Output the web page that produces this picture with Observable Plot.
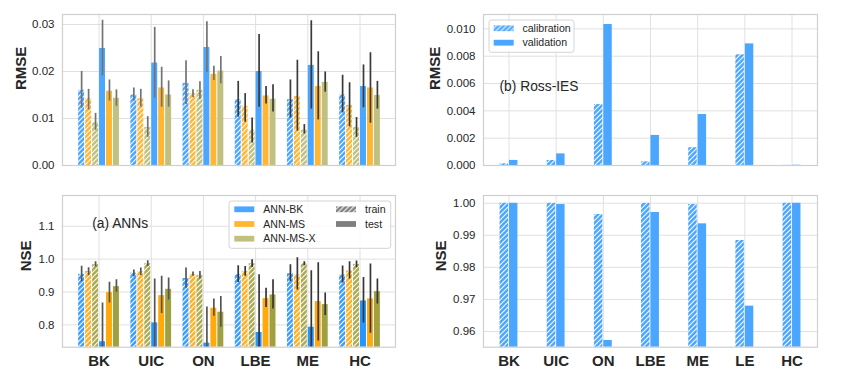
<!DOCTYPE html>
<html><head><meta charset="utf-8">
<script src="https://cdn.jsdelivr.net/npm/d3@7"></script>
<script src="https://cdn.jsdelivr.net/npm/@observablehq/plot@0.6"></script>
<style>
body{margin:0;background:#fff;font-family:"Liberation Sans",Arial,sans-serif;}
#root{position:relative;width:842px;height:377px;overflow:hidden;background:#fff;}
.panel{position:absolute;}
.legend{position:absolute;overflow:visible;}
</style></head><body>
<svg width="0" height="0" style="position:absolute">
<defs id="defs"></defs></svg>
<div id="root"></div>
<script>
// ---------- data ----------
const annCategories = ["BK","UIC","ON","LBE","ME","HC"];
const annModels = ["ANN-BK","ANN-MS","ANN-MS-X"];
const phases = ["train","test"];
// [mean, lower, upper] per category
const rmseTrainBK  = [[0.0160,0.0122,0.0200],[0.0150,0.0137,0.0165],[0.0175,0.0130,0.0223],[0.0140,0.0103,0.0179],[0.0140,0.0101,0.0182],[0.0150,0.0112,0.0192]];
const rmseTrainMS  = [[0.0142,0.0118,0.0162],[0.0142,0.0124,0.0162],[0.0153,0.0144,0.0161],[0.0126,0.0092,0.0153],[0.0147,0.0073,0.0224],[0.0128,0.0082,0.0176]];
const rmseTrainMSX = [[0.0091,0.0075,0.0111],[0.0081,0.0060,0.0104],[0.0160,0.0141,0.0178],[0.0075,0.0048,0.0101],[0.0075,0.0067,0.0087],[0.0081,0.0060,0.0102]];
const rmseTestBK   = [[0.0249,0.0191,0.0309],[0.0218,0.0143,0.0294],[0.0251,0.0198,0.0306],[0.0200,0.0124,0.0279],[0.0213,0.0120,0.0308],[0.0168,0.0123,0.0214]];
const rmseTestMS   = [[0.0158,0.0137,0.0182],[0.0165,0.0124,0.0209],[0.0194,0.0181,0.0211],[0.0148,0.0131,0.0168],[0.0168,0.0097,0.0242],[0.0165,0.0090,0.0240]];
const rmseTestMSX  = [[0.0143,0.0126,0.0161],[0.0150,0.0124,0.0180],[0.0201,0.0174,0.0232],[0.0141,0.0114,0.0172],[0.0177,0.0156,0.0199],[0.0149,0.0120,0.0179]];
const nseTrainBK   = [[0.9535,0.931,0.978],[0.957,0.9465,0.967],[0.941,0.911,0.973],[0.9525,0.929,0.980],[0.9556,0.932,0.983],[0.9515,0.927,0.979]];
const nseTrainMS   = [[0.9626,0.9495,0.9737],[0.9616,0.9505,0.9727],[0.9535,0.9475,0.9606],[0.9626,0.9475,0.9778],[0.9515,0.906,1.004],[0.9636,0.9394,0.9919]];
const nseTrainMSX  = [[0.9828,0.9758,0.9919],[0.9859,0.9778,0.995],[0.9495,0.9394,0.9626],[0.9859,0.9747,0.998],[0.9859,0.9798,0.9919],[0.9838,0.9737,0.9939]];
const nseTestBK    = [[0.7485,0.63,0.8667],[0.806,0.67,0.9394],[0.7444,0.63,0.8545],[0.7768,0.60,0.9525],[0.7929,0.62,0.9646],[0.8727,0.806,0.9444]];
const nseTestMS    = [[0.898,0.8667,0.9293],[0.8889,0.8343,0.9475],[0.8505,0.8263,0.8788],[0.8798,0.8525,0.9111],[0.8707,0.7505,0.9889],[0.8788,0.7747,0.9848]];
const nseTestMSX   = [[0.9162,0.899,0.9374],[0.9081,0.8758,0.9424],[0.8384,0.7929,0.8859],[0.8909,0.8485,0.9374],[0.8616,0.8283,0.897],[0.901,0.8636,0.9394]];
const rmseTicks = [0, 0.01, 0.02, 0.03];
const nseTicks = [0.8, 0.9, 1.0, 1.1];

const iesCategories = ["BK","UIC","ON","LBE","ME","LE","HC"];
const iesSeries = ["calibration","validation"];
const iesRmseCal = [0.00012,0.00037,0.00446,0.00027,0.0013,0.0081,0.00001];
const iesRmseVal = [0.00037,0.00085,0.01032,0.0022,0.00373,0.0089,0.00002];
const iesNseCal  = [0.99998,0.99995,0.99647,0.99995,0.9996,0.98836,0.99998];
const iesNseVal  = [0.99997,0.99958,0.9572,0.9971,0.99356,0.9679,0.99998];
const iesRmseTicks = [0, 0.002, 0.004, 0.006, 0.008, 0.010];
const iesNseTicks = [0.96, 0.97, 0.98, 0.99, 1.00];

// ---------- styles ----------
const FONT = '"Liberation Sans", Arial, sans-serif';
const TXT = "#262626";
const GRID = "#e0e0e0";
const colorsTop = ["#4ba6ff","#ffb733","#c0c080"];
const colorsBotTest = ["#2795ff","#ffa90a","#a0a040"];
const colorsBotTrain = ["#3a9eff","#ffb020","#aaaa52"];
const iesColor = "#4ba6ff";

// hatch patterns
const defs = d3.select("#defs");
function hatch(id, color) {
  const p = defs.append("pattern").attr("id", id).attr("patternUnits","userSpaceOnUse")
    .attr("width",5).attr("height",5);
  p.append("rect").attr("width",5).attr("height",5).attr("fill",color);
  p.append("path").attr("d","M-1.25,1.25 l2.5,-2.5 M0,5 l5,-5 M3.75,6.25 l2.5,-2.5")
    .attr("stroke","#fff").attr("stroke-width",1.1).attr("stroke-opacity",0.95);
  return `url(#${id})`;
}
const hatchTop = colorsTop.map((c,k)=>hatch("ht"+k,c));
const hatchBot = colorsBotTrain.map((c,k)=>hatch("hb"+k,c));
const hatchIes = hatch("hi", iesColor);
const hatchGray = hatch("hg", "#7f7f7f");

function annRows(trainArrs, testArrs) {
  const rows = [];
  [trainArrs, testArrs].forEach((arrs, ph) => arrs.forEach((arr, m) => arr.forEach((d, i) =>
    rows.push({i, m, ph, j: ph*3+m, v: d[0], lo: d[1], hi: d[2]}))));
  return rows;
}

const root = document.getElementById("root");
function place(node, left, top) {
  node.classList.add("panel"); node.style.left = left+"px"; node.style.top = top+"px";
  root.appendChild(node);
}

const slotA = 0.8/6;
function annPanel({rows, yDomain, yTicks, yFmt, yLabel, labelDx, showX, fillFn, errA, errB, height, mt, mb, text}) {
  return Plot.plot({
    width: 410, height, marginLeft: 62, marginRight: 15, marginTop: mt, marginBottom: mb,
    x: {type: "linear", domain: [-0.7, 5.68], axis: null},
    y: {domain: yDomain, axis: null},
    color: {type: "identity"},
    style: {fontFamily: FONT, fontSize: "11.5px", color: TXT, background: "transparent", overflow: "visible"},
    marks: [
      Plot.gridX(d3.range(annCategories.length), {stroke: GRID, strokeOpacity: 1}),
      Plot.gridY(yTicks, {stroke: GRID, strokeOpacity: 1}),
      Plot.rectY(rows, {x1: d => d.i - 0.4 + d.j*slotA, x2: d => d.i - 0.4 + (d.j+1)*slotA,
        y1: 0, y2: "v", fill: fillFn, insetLeft: 0.5, insetRight: 0.5, clip: true}),
      Plot.ruleX(rows, {x: d => d.i - 0.4 + (d.j+0.5)*slotA, y1: "lo", y2: "hi",
        stroke: d => d.i < 3 ? errA : errB, strokeWidth: 1.7, clip: true}),
      Plot.frame({stroke: "#cfcfcf", strokeWidth: 1.2}),
      Plot.axisY(yTicks, {tickSize: 0, tickPadding: 8, tickFormat: d3.format(yFmt), label: null, fontSize: 11.5}),
      showX ? Plot.axisX(d3.range(annCategories.length), {tickSize: 0, tickPadding: 8, tickFormat: i => annCategories[i],
        label: null, fontSize: 15, fontWeight: "bold"}) : null,
      Plot.text([yLabel], {text: d => d, frameAnchor: "left", dx: labelDx, rotate: -90, fontSize: 15, fontWeight: "bold", fill: TXT}),
      text ? Plot.text([text.s], {text: d => d, frameAnchor: "top-left", dx: text.dx, dy: text.dy, textAnchor: "start", lineAnchor: "middle", fontSize: 13.8, fill: TXT}) : null
    ]
  });
}

const slotB = 0.2;
function iesRows(cal, val) {
  const rows = [];
  [cal, val].forEach((arr, s) => arr.forEach((v, i) => rows.push({i, s, v})));
  return rows;
}
function iesPanel({rows, yDomain, yTicks, yFmt, yLabel, labelDx, showX, height, mt, mb, text}) {
  return Plot.plot({
    width: 422, height, marginLeft: 63, marginRight: 25, marginTop: mt, marginBottom: mb,
    x: {type: "linear", domain: [-0.54, 6.54], axis: null},
    y: {domain: yDomain, axis: null},
    color: {type: "identity"},
    style: {fontFamily: FONT, fontSize: "11.5px", color: TXT, background: "transparent", overflow: "visible"},
    marks: [
      Plot.gridX(d3.range(iesCategories.length), {stroke: GRID, strokeOpacity: 1}),
      Plot.gridY(yTicks, {stroke: GRID, strokeOpacity: 1}),
      Plot.rectY(rows, {x1: d => d.i - 0.2 + d.s*slotB, x2: d => d.i - 0.2 + (d.s+1)*slotB,
        y1: 0, y2: "v", fill: d => d.s === 0 ? hatchIes : iesColor, insetLeft: 0.5, insetRight: 0.5, clip: true}),
      Plot.frame({stroke: "#cfcfcf", strokeWidth: 1.2}),
      Plot.axisY(yTicks, {tickSize: 0, tickPadding: 8, tickFormat: d3.format(yFmt), label: null, fontSize: 11.5}),
      showX ? Plot.axisX(d3.range(iesCategories.length), {tickSize: 0, tickPadding: 8, tickFormat: i => iesCategories[i],
        label: null, fontSize: 15, fontWeight: "bold"}) : null,
      Plot.text([yLabel], {text: d => d, frameAnchor: "left", dx: labelDx, rotate: -90, fontSize: 15, fontWeight: "bold", fill: TXT}),
      text ? Plot.text([text.s], {text: d => d, frameAnchor: "top-left", dx: text.dx, dy: text.dy, textAnchor: "start", lineAnchor: "middle", fontSize: 13.8, fill: TXT}) : null
    ]
  });
}

// ---------- panels ----------
place(annPanel({
  rows: annRows([rmseTrainBK, rmseTrainMS, rmseTrainMSX], [rmseTestBK, rmseTestMS, rmseTestMSX]),
  yDomain: [0, 0.03213], yTicks: rmseTicks, yFmt: ".2f", yLabel: "RMSE", labelDx: -41.5, showX: false,
  fillFn: d => d.ph === 0 ? hatchTop[d.m] : colorsTop[d.m], errA: "#737373", errB: "#3a3a3a",
  height: 180, mt: 14, mb: 15
}), 0, 0);

place(annPanel({
  rows: annRows([nseTrainBK, nseTrainMS, nseTrainMSX], [nseTestBK, nseTestMS, nseTestMSX]),
  yDomain: [0.732, 1.1935], yTicks: nseTicks, yFmt: ".1f", yLabel: "NSE", labelDx: -36, showX: true,
  fillFn: d => d.ph === 0 ? hatchBot[d.m] : colorsBotTest[d.m], errA: "#555555", errB: "#363636",
  height: 197, mt: 15, mb: 30.3, text: {s: "(a) ANNs", dx: 29.7, dy: 28.3}
}), 0, 180);

place(iesPanel({
  rows: iesRows(iesRmseCal, iesRmseVal),
  yDomain: [0, 0.01105], yTicks: iesRmseTicks, yFmt: ".3f", yLabel: "RMSE", labelDx: -48.5, showX: false,
  height: 180, mt: 14, mb: 15, text: {s: "(b) Ross-IES", dx: 16, dy: 72}
}), 420, 0);

place(iesPanel({
  rows: iesRows(iesNseCal, iesNseVal),
  yDomain: [0.9551, 1.0024], yTicks: iesNseTicks, yFmt: ".2f", yLabel: "NSE", labelDx: -42, showX: true,
  height: 197, mt: 15, mb: 30.3
}), 420, 180);

// ---------- legends ----------
function legend(left, top, w, h, entries) {
  const svg = d3.create("svg").attr("class","legend").attr("width", w+2).attr("height", h+2)
    .style("left", (left-1)+"px").style("top", (top-1)+"px");
  svg.append("rect").attr("x",1).attr("y",1).attr("width",w).attr("height",h).attr("rx",2.5)
    .attr("fill","#fff").attr("fill-opacity",0.85).attr("stroke","#d4d4d4").attr("stroke-width",1);
  const g = svg.selectAll("g").data(entries).join("g").attr("transform", d => `translate(${d.px+1},${d.cy+1})`);
  g.append("rect").attr("x",0).attr("y",-2.9).attr("width",20).attr("height",5.8).attr("fill", d => d.fill);
  g.append("text").attr("x", d => d.tx).attr("y",0).attr("dy","0.35em").text(d => d.label)
    .attr("font-family", FONT).attr("font-size", 10.6).attr("fill", TXT);
  root.appendChild(svg.node());
}
legend(229, 201, 161.7, 47.3, [
  ...annModels.map((m,k) => ({label: m, fill: colorsTop[k], px: 5.3, cy: 8.3 + k*14.7, tx: 29})),
  ...phases.map((p,k) => ({label: p, fill: k === 0 ? hatchGray : "#7f7f7f", px: 107, cy: 8.3 + k*14.7, tx: 29}))
]);
legend(489.3, 20, 85, 32.3, iesSeries.map((s,k) => ({label: s, fill: k === 0 ? hatchIes : iesColor, px: 4.7, cy: 8.3 + k*14.4, tx: 28.7})));
</script>
</body></html>
